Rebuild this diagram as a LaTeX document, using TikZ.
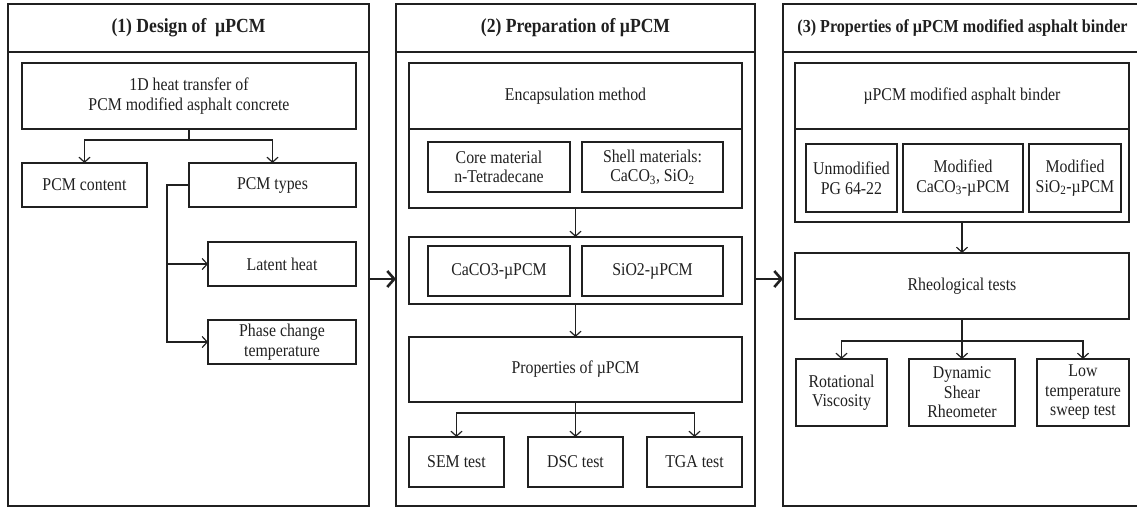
\documentclass[tikz,border=0pt]{standalone}
\usepackage{fontspec}
\setmainfont{Liberation Serif}[FakeStretch=0.88]
\usetikzlibrary{arrows.meta}
\definecolor{ink}{RGB}{32,32,32}
\newcommand\bx[7][]{\node[bx,#1,minimum width={(#5-#3)*1pt},minimum height={(#6-#4)*1pt}] (#2) at ({(#3+#5)/2},{(#4+#6)/2}) {#7};}
\tikzset{
  bx/.style={draw=ink,line width=1.3pt,inner sep=1pt,outer sep=0pt,align=center,text=ink,
    font=\fontsize{18}{19.5}\selectfont},
  panel/.style={line width=1.6pt},
  ttl/.style={line width=1.6pt,font=\fontsize{20}{22}\selectfont\bfseries},
  ttlsm/.style={line width=1.6pt,font=\fontsize{18.3}{22}\selectfont\bfseries},
  arr/.style={draw=ink,line width=1.2pt,-{Straight Barb[length=5pt,width=11pt]}},
  bigarr/.style={draw=ink,line width=2.6pt,-{Straight Barb[length=7pt,width=16pt]}},
}
\begin{document}
\begin{tikzpicture}[x=1pt,y=-1pt]
\path[use as bounding box] (0,0) rectangle (1137,507);
\clip (0,0) rectangle (1137,507);
% panels
\bx[panel]{p1}{8}{4}{369}{506}{}
\bx[ttl]{t1}{8}{4}{369}{52}{(1) Design of\ \ µPCM}
\bx[panel]{p2}{396}{4}{755}{506}{}
\bx[ttl]{t2}{396}{4}{755}{52}{(2) Preparation of µPCM}
\bx[panel]{p3}{783}{4}{1142}{506}{}
\bx[ttlsm]{t3}{783}{4}{1142}{52}{(3) Properties of µPCM modified asphalt binder}
% panel 1
\bx{heat}{22}{63}{356}{129}{1D heat transfer of\\PCM modified asphalt concrete}
\bx{content}{22}{163}{147}{207}{PCM content}
\bx{types}{189}{163}{356}{207}{PCM types}
\bx{latent}{208}{242}{356}{286}{Latent heat}
\bx{phase}{208}{320}{356}{364}{Phase change\\temperature}
\draw[arr] (heat.south) -- ++(0,11) -| (content.north);
\draw[arr] (heat.south) -- ++(0,11) -| (types.north);
\draw[arr] (types.west) -- ++(-22,0) |- (latent.west);
\draw[arr] (types.west) -- ++(-22,0) |- (phase.west);
% panel 2
\bx{encg}{409}{63}{742}{208}{}
\bx{enc}{409}{63}{742}{129}{Encapsulation method}
\bx{core}{428}{142}{570}{192}{Core material\\n-Tetradecane}
\bx{shell}{582}{142}{723}{192}{Shell materials:\\CaCO\textsubscript{3}, SiO\textsubscript{2}}
\bx{grpb}{409}{237}{742}{304}{}
\bx{caco}{428}{246}{570}{296}{CaCO3-µPCM}
\bx{sio}{582}{246}{723}{296}{SiO2-µPCM}
\bx{props}{409}{337}{742}{402}{Properties of µPCM}
\bx{sem}{409}{437}{504}{487}{SEM test}
\bx{dsc}{528}{437}{623}{487}{DSC test}
\bx{tga}{647}{437}{742}{487}{TGA test}
\draw[arr] (encg.south) -- (grpb.north);
\draw[arr] (grpb.south) -- (props.north);
\draw[arr] (props.south) -- ++(0,11) -| (sem.north);
\draw[arr] (props.south) -- (dsc.north);
\draw[arr] (props.south) -- ++(0,11) -| (tga.north);
% panel 3
\bx{bindg}{795}{63}{1129}{222}{}
\bx{bind}{795}{63}{1129}{129}{µPCM modified asphalt binder}
\bx{unmod}{806}{144}{897}{212}{Unmodified\\PG 64-22}
\bx{modc}{903}{144}{1023}{212}{Modified\\CaCO\textsubscript{3}-µPCM}
\bx{mods}{1029}{144}{1121}{212}{Modified\\SiO\textsubscript{2}-µPCM}
\bx{rheo}{795}{253}{1129}{319}{Rheological tests}
\bx{rot}{796}{359}{887}{426}{Rotational\\Viscosity}
\bx{dsr}{909}{359}{1015}{426}{Dynamic\\Shear\\Rheometer}
\bx{low}{1037}{359}{1129}{426}{Low\\temperature\\sweep test}
\draw[arr] (bindg.south) -- (rheo.north);
\draw[arr] (rheo.south) -- ++(0,22) -| (rot.north);
\draw[arr] (rheo.south) -- (dsr.north);
\draw[arr] (rheo.south) -- ++(0,22) -| (low.north);
% inter-panel arrows
\draw[bigarr] ([yshift=-24pt]p1.east) -- ([yshift=-24pt]p2.west);
\draw[bigarr] ([yshift=-24pt]p2.east) -- ([yshift=-24pt]p3.west);
\end{tikzpicture}
\end{document}
